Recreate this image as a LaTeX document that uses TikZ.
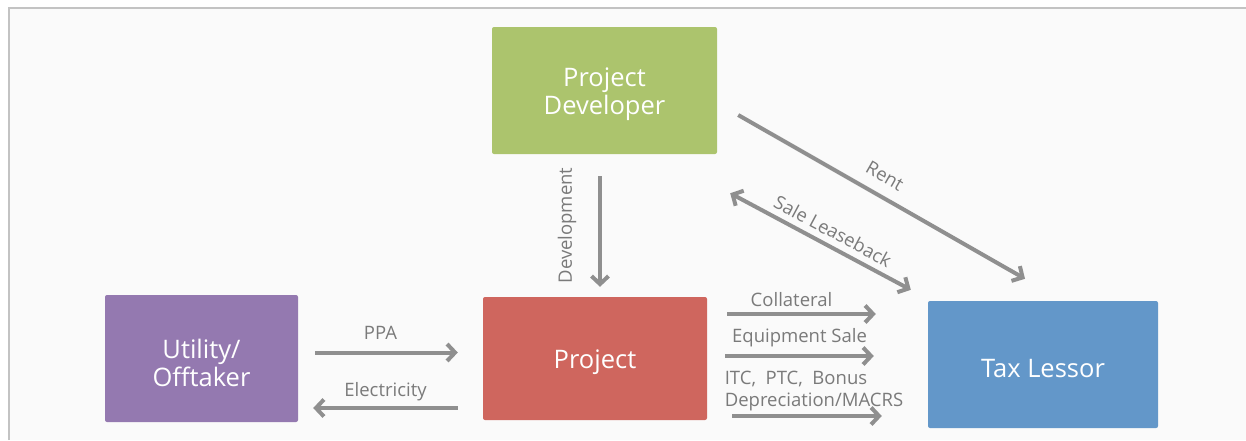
\documentclass[tikz,border=0pt]{standalone}
\usepackage{fontspec}
\setmainfont{Open Sans}
\usepackage{xcolor}
\usetikzlibrary{arrows.meta, calc, positioning}
\definecolor{devgreen}{HTML}{ACC46D}
\definecolor{utilpurple}{HTML}{9479B0}
\definecolor{projred}{HTML}{CF665E}
\definecolor{taxblue}{HTML}{6397C9}
\definecolor{flowgray}{HTML}{8F8F8F}
\definecolor{labelgray}{HTML}{7A7A7A}
\definecolor{framegray}{HTML}{C3C3C3}
\definecolor{backgray}{HTML}{FAFAFA}

\begin{document}
\begin{tikzpicture}[x=1pt, y=-1pt,
  party/.style={rounded corners=2pt, inner sep=0pt},
  partytext/.style={text=white, align=center, yshift=-4pt,
    font=\fontsize{25.5}{28}\selectfont},
  flow/.style={flowgray, line width=4pt, -{Straight Barb[length=8pt,width=17pt]}},
  flowlabel/.style={labelgray, font=\fontsize{18.5}{22}\selectfont, inner sep=2pt}]
  \useasboundingbox (0, 0) rectangle (1246, 440);
  \fill[backgray] (9, 8) rectangle (1246, 440);
  \draw[framegray, line width=2pt] (9, 440) -- (9, 8) -- (1246, 8);
  % parties
  \node[party, fill=devgreen, minimum width=225pt, minimum height=127pt,
    label={[partytext]center:Project\\Developer}] (dev) at (604.5, 90.5) {};
  \node[party, fill=utilpurple, minimum width=193pt, minimum height=127pt,
    label={[partytext]center:Utility/\\Offtaker}] (util) at (201.5, 358.5) {};
  \node[party, fill=projred, minimum width=224pt, minimum height=123pt,
    label={[partytext]center:Project}] (proj) at (595, 358.5) {};
  \node[party, fill=taxblue, minimum width=230pt, minimum height=127pt,
    label={[partytext]center:Tax Lessor}] (tax) at (1043, 364.5) {};
  % flows
  \draw[flow] ($(dev.south)+(-4.5, 22)$) -- ($(proj.north)+(5, -10)$)
    node[flowlabel, midway, xshift=-33pt, yshift=6pt, rotate=90] {Development};
  \draw[flow] ($(util.east)+(17, -6)$) -- ($(proj.west)+(-25, -6)$)
    node[flowlabel, midway, above=9pt, xshift=-6pt] {PPA};
  \draw[flow] ($(proj.west)+(-25, 49.5)$) -- ($(util.east)+(15, 49.5)$)
    node[flowlabel, midway, above=3pt] {Electricity};
  \draw[flow] ($(dev.east)+(21, 24.5)$) -- ($(tax.north)+(-18, -22)$)
    node[flowlabel, midway, sloped, above=9pt, xshift=-7.5pt] {Rent};
  \draw[flowgray, line width=4pt, {Straight Barb[length=8pt,width=17pt]}-{Straight Barb[length=8pt,width=17pt]}]
    ($(dev.south east)+(13, 39)$) -- ($(tax.north west)+(-17, -11)$)
    node[flowlabel, midway, sloped, above=4pt, xshift=6pt] {Sale Leaseback};
  \draw[flow] ($(proj.east)+(20, -44.5)$) -- ($(tax.west)+(-52, -50.5)$)
    node[flowlabel, midway, above=3pt, xshift=-10pt] {Collateral};
  \draw[flow] ($(proj.east)+(18, -2.5)$) -- ($(tax.west)+(-54, -8.5)$)
    node[flowlabel, midway, above=5pt] {Equipment Sale};
  \draw[flow] ($(proj.east)+(25, 57.5)$) -- ($(tax.west)+(-46, 51.5)$)
    node[flowlabel, midway, above=1pt, xshift=7pt, align=left] {ITC,\ \ PTC,\ \ Bonus\\Depreciation/MACRS};
\end{tikzpicture}
\end{document}
